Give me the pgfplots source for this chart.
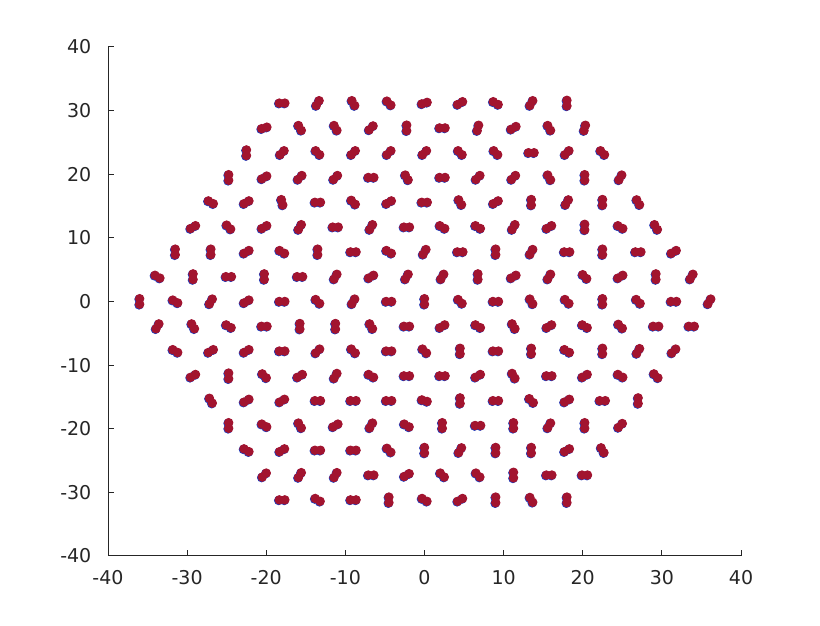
\documentclass[border=0pt]{standalone}
\usepackage{fontspec}
\setmainfont{DejaVu Sans}
\usepackage{xcolor}
\usepackage{pgfplots}
\usepackage{pgfplotstable}
\pgfplotsset{compat=1.18}
\definecolor{axgray}{RGB}{38,38,38}
\definecolor{dimred}{RGB}{162,20,47}
\definecolor{dimblue}{RGB}{30,60,190}

% lattice sites (x, y) and half-offset of the pair (dx, dy)
\pgfplotstableread{
x y dx dy
-18 31.18 0.35 0
-13.5 31.18 0.18 0.38
-9 31.18 -0.18 0.38
-4.5 31.18 -0.25 0.31
0 31.18 0.33 0.12
4.5 31.18 0.31 0.22
9 31.18 -0.31 0.22
13.5 31.18 0.18 0.38
18 31.18 0 0.44
-20.25 27.28 0.33 0.12
-15.75 27.28 -0.18 0.38
-11.25 27.28 -0.18 0.38
-6.75 27.28 0.25 0.31
-2.25 27.28 0 0.44
2.25 27.28 0.35 0
6.75 27.28 0.09 0.42
11.25 27.28 0.31 0.22
15.75 27.28 -0.18 0.38
20.25 27.28 0.09 0.42
-22.5 23.38 0 0.44
-18 23.38 0.25 0.31
-13.5 23.38 -0.25 0.31
-9 23.38 0.25 0.31
-4.5 23.38 0.25 0.31
0 23.38 0.25 0.31
4.5 23.38 -0.25 0.31
9 23.38 -0.25 0.31
13.5 23.38 0.35 0
18 23.38 0.25 0.31
22.5 23.38 -0.25 0.31
-24.75 19.49 0 0.44
-20.25 19.49 0.31 0.22
-15.75 19.49 0.25 0.31
-11.25 19.49 0.25 0.31
-6.75 19.49 0.35 0
-2.25 19.49 -0.18 0.38
2.25 19.49 0.35 0
6.75 19.49 0.25 0.31
11.25 19.49 0.25 0.31
15.75 19.49 -0.18 0.38
20.25 19.49 0 0.44
24.75 19.49 0.18 0.38
-27 15.59 -0.31 0.22
-22.5 15.59 0.31 0.22
-18 15.59 -0.09 0.42
-13.5 15.59 0.35 0
-9 15.59 -0.25 0.31
-4.5 15.59 0.31 0.22
0 15.59 0.35 0
4.5 15.59 -0.18 0.38
9 15.59 0.31 0.22
13.5 15.59 0 0.44
18 15.59 0.18 0.38
22.5 15.59 0 0.44
27 15.59 -0.18 0.38
-29.25 11.69 0.31 0.22
-24.75 11.69 -0.25 0.31
-20.25 11.69 0.31 0.22
-15.75 11.69 0.18 0.38
-11.25 11.69 0.35 0
-6.75 11.69 0.18 0.38
-2.25 11.69 0.35 0
2.25 11.69 -0.31 0.22
6.75 11.69 -0.31 0.22
11.25 11.69 0.18 0.38
15.75 11.69 0.31 0.22
20.25 11.69 0 0.44
24.75 11.69 -0.31 0.22
29.25 11.69 -0.18 0.38
-31.5 7.79 0 0.44
-27 7.79 0 0.44
-22.5 7.79 0.31 0.22
-18 7.79 -0.31 0.22
-13.5 7.79 0 0.44
-9 7.79 0.35 0
-4.5 7.79 -0.31 0.22
0 7.79 0.18 0.38
4.5 7.79 0.35 0
9 7.79 0 0.44
13.5 7.79 0.18 0.38
18 7.79 0.35 0
22.5 7.79 0 0.44
27 7.79 0.35 0
31.5 7.79 0.31 0.22
-33.75 3.90 -0.31 0.22
-29.25 3.90 0 0.44
-24.75 3.90 0.35 0
-20.25 3.90 0 0.44
-15.75 3.90 0.35 0
-11.25 3.90 0.18 0.38
-6.75 3.90 0.31 0.22
-2.25 3.90 0.18 0.38
2.25 3.90 0.18 0.38
6.75 3.90 0 0.44
11.25 3.90 0.31 0.22
15.75 3.90 0.18 0.38
20.25 3.90 -0.25 0.31
24.75 3.90 0.31 0.22
29.25 3.90 0 0.44
33.75 3.90 0.18 0.38
-36 0 0 0.44
-31.5 0 -0.31 0.22
-27 0 0.18 0.38
-22.5 0 0.31 0.22
-18 0 0.35 0
-13.5 0 -0.25 0.31
-9 0 0.18 0.38
-4.5 0 0.35 0
0 0 0 0.44
4.5 0 -0.25 0.31
9 0 0.35 0
13.5 0 -0.18 0.38
18 0 -0.25 0.31
22.5 0 0 0.44
27 0 -0.25 0.31
31.5 0 0.35 0
36 0 0.18 0.38
-33.75 -3.90 0.18 0.38
-29.25 -3.90 -0.18 0.38
-24.75 -3.90 -0.31 0.22
-20.25 -3.90 0.35 0
-15.75 -3.90 0 0.44
-11.25 -3.90 0 0.44
-6.75 -3.90 -0.18 0.38
-2.25 -3.90 0.35 0
2.25 -3.90 0.31 0.22
6.75 -3.90 -0.31 0.22
11.25 -3.90 -0.18 0.38
15.75 -3.90 0.31 0.22
20.25 -3.90 -0.31 0.22
24.75 -3.90 -0.25 0.31
29.25 -3.90 0.35 0
33.75 -3.90 0.35 0
-31.5 -7.79 -0.31 0.22
-27 -7.79 0.31 0.22
-22.5 -7.79 0.31 0.22
-18 -7.79 0.35 0
-13.5 -7.79 0.25 0.31
-9 -7.79 -0.25 0.31
-4.5 -7.79 0.35 0
0 -7.79 -0.25 0.31
4.5 -7.79 0 0.44
9 -7.79 0.35 0
13.5 -7.79 0 0.44
18 -7.79 -0.31 0.22
22.5 -7.79 0 0.44
27 -7.79 0.18 0.38
31.5 -7.79 0.25 0.31
-29.25 -11.69 0.31 0.22
-24.75 -11.69 0 0.44
-20.25 -11.69 -0.25 0.31
-15.75 -11.69 0.31 0.22
-11.25 -11.69 0.18 0.38
-6.75 -11.69 -0.31 0.22
-2.25 -11.69 0.35 0
2.25 -11.69 0.35 0
6.75 -11.69 0.31 0.22
11.25 -11.69 -0.18 0.38
15.75 -11.69 0.35 0
20.25 -11.69 0.31 0.22
24.75 -11.69 -0.31 0.22
29.25 -11.69 -0.25 0.31
-27 -15.59 -0.18 0.38
-22.5 -15.59 0.31 0.22
-18 -15.59 0.31 0.22
-13.5 -15.59 0.35 0
-9 -15.59 0.35 0
-4.5 -15.59 0.35 0
0 -15.59 -0.33 0.12
4.5 -15.59 0 0.44
9 -15.59 0.35 0
13.5 -15.59 -0.25 0.31
18 -15.59 0.31 0.22
22.5 -15.59 0.35 0
27 -15.59 0 0.44
-24.75 -19.49 0 0.44
-20.25 -19.49 -0.31 0.22
-15.75 -19.49 -0.18 0.38
-11.25 -19.49 0.31 0.22
-6.75 -19.49 0.18 0.38
-2.25 -19.49 -0.31 0.22
2.25 -19.49 0 0.44
6.75 -19.49 0.35 0
11.25 -19.49 0 0.44
15.75 -19.49 0.18 0.38
20.25 -19.49 0 0.44
24.75 -19.49 0.25 0.31
-22.5 -23.38 -0.31 0.22
-18 -23.38 0.31 0.22
-13.5 -23.38 0.35 0
-9 -23.38 0.35 0
-4.5 -23.38 -0.25 0.31
0 -23.38 0 0.44
4.5 -23.38 0.18 0.38
9 -23.38 0 0.44
13.5 -23.38 0 0.44
18 -23.38 0.31 0.22
22.5 -23.38 -0.18 0.38
-20.25 -27.28 0.25 0.31
-15.75 -27.28 0.18 0.38
-11.25 -27.28 0.18 0.38
-6.75 -27.28 0.35 0
-2.25 -27.28 0.31 0.22
2.25 -27.28 -0.25 0.31
6.75 -27.28 -0.25 0.31
11.25 -27.28 0 0.44
15.75 -27.28 0.35 0
20.25 -27.28 0.35 0
-18 -31.18 0.35 0
-13.5 -31.18 -0.31 0.22
-9 -31.18 0.35 0
-4.5 -31.18 0 0.44
0 -31.18 -0.31 0.22
4.5 -31.18 0.31 0.22
9 -31.18 0 0.44
13.5 -31.18 -0.18 0.38
18 -31.18 0 0.44
}\sites

\begin{document}
\begin{tikzpicture}
\begin{axis}[
    scale only axis,
    width=316.5pt, height=254.5pt,
    xmin=-40, xmax=40, ymin=-40, ymax=40,
    axis x line=bottom, axis y line=left,
    axis line style={-, axgray, line width=0.5pt},
    xtick={-40,-30,...,40},
    ytick={-40,-30,...,40},
    tick align=inside,
    major tick length=3pt,
    tick style={axgray, line width=0.5pt},
    ticklabel style={font=\fontsize{9.5}{11}\selectfont, text=axgray},
    xticklabel style={yshift=-3.8pt},
    yticklabel style={xshift=-4.8pt},
    /pgf/number format/assume math mode=true,
    clip=false,
]
\coordinate (sw) at (rel axis cs:0,0);
\coordinate (ne) at (rel axis cs:1,1);

% blue pairs, peeking out under the red ones
\addplot[only marks, mark=*, mark size=2.1pt,
    mark options={fill=dimblue, draw=dimblue, line width=0.5pt, xshift=-0.3pt, yshift=-0.3pt}]
    table[x expr=\thisrow{x}+\thisrow{dx}, y expr=\thisrow{y}+\thisrow{dy}] {\sites};
\addplot[only marks, mark=*, mark size=2.1pt,
    mark options={fill=dimblue, draw=dimblue, line width=0.5pt, xshift=-0.3pt, yshift=-0.3pt}]
    table[x expr=\thisrow{x}-\thisrow{dx}, y expr=\thisrow{y}-\thisrow{dy}] {\sites};

% red pairs on top
\addplot[only marks, mark=*, mark size=2.1pt,
    mark options={fill=dimred, draw=dimred, line width=0.5pt}]
    table[x expr=\thisrow{x}+\thisrow{dx}, y expr=\thisrow{y}+\thisrow{dy}] {\sites};
\addplot[only marks, mark=*, mark size=2.1pt,
    mark options={fill=dimred, draw=dimred, line width=0.5pt}]
    table[x expr=\thisrow{x}-\thisrow{dx}, y expr=\thisrow{y}-\thisrow{dy}] {\sites};
\end{axis}
\path ([shift={(-54pt,-35pt)}]sw) rectangle ([shift={(39.5pt,23.5pt)}]ne);
\end{tikzpicture}
\end{document}
